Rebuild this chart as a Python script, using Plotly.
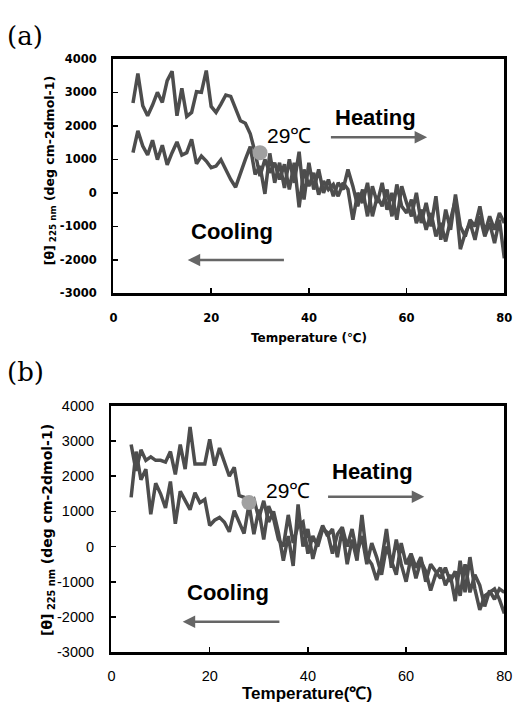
import plotly.graph_objects as go

temps = list(range(4, 81))

a_upper = [2680, 3560, 2600, 2300, 2620, 3000, 2700, 3350, 3630, 2300,
           3120, 2280, 2400, 3020, 3000, 3650, 2580, 2400, 2650, 2920,
           2880, 2500, 2150, 2080, 1760, 1200, 500, 1000, 600, 900,
           400, 850, 100, 900, -430, 700, 200, 600, -50, 350,
           100, 250, -100, 300, 100, -800, 0, -300, 300, -700,
           -100, -400, 100, -700, 250, -400, -600, -200, -900, -500,
           -1100, -600, -1300, -900, -1450, -800, -200, -1680, -1200, -900,
           -1400, -700, -1300, -900, -1500, -800, -1950]
a_lower = [1200, 1850, 1400, 1130, 1570, 990, 1420, 840, 1200, 1520,
           1130, 1200, 1600, 870, 1100, 950, 750, 800, 990, 700,
           400, 170, 600, 1000, 1380, 550, 800, -30, 1180, 300,
           900, 150, 1000, 300, 1230, -200, 900, 100, 700, 0,
           400, -100, 300, 100, 700, 200, -400, 100, -700, 200,
           -300, 300, -500, 0, -800, 200, -300, -700, 0, -900,
           -300, -1000, -100, -1400, -500, -1100, -50, -1000, -1300, -800,
           -1000, -400, -1200, -700, -1100, -600, -900]

b_upper = [2900, 2150, 2750, 2450, 2550, 2450, 2450, 2400, 2700, 2050,
           2900, 2200, 3400, 2350, 2350, 2350, 3050, 2300, 2800, 2400,
           2000, 2250, 1450, 1400, 1250, 1350, 800, 1300, 700, 1000,
           400, -400, 300, -550, 1200, 0, 500, -350, 200, 600,
           300, 500, -300, 500, -500, 200, -400, 900, -300, -500,
           -950, -400, 500, -600, 200, -500, -1000, -300, -900, -400,
           -700, -1250, -800, -600, -1100, -800, -1550, -400, -1300, -300,
           -1200, -1800, -1400, -1300, -1200, -1500, -1900]
b_lower = [1400, 2700, 1900, 2200, 920, 1800, 1500, 1100, 1850, 650,
           1570, 1300, 1050, 1530, 1250, 1340, 600, 750, 830, 690,
           420, 1020, 700, 370, 1200, 350, 1050, 200, 1150, 800,
           200, 0, 900, 100, 600, 700, -200, 300, 0, 500,
           400, -200, 350, 550, 0, 500, -200, 300, -500, 100,
           -300, -800, 0, -400, -800, 100, -500, -200, -600, -300,
           -1000, -500, -700, -900, -600, -1000, -700, -1400, -500, -1300,
           -800, -1100, -1700, -1250, -1500, -1200, -1300]

transition_a = (30, 1200)
transition_b = (28, 1250)

x_ticks = [0, 20, 40, 60, 80]
y_ticks = [-3000, -2000, -1000, 0, 1000, 2000, 3000, 4000]
y_ticktext = [str(v) for v in y_ticks]

LINE = "#4d4d4d"
W, H = 526, 710

fig = go.Figure()
for xa, ya, ser in (("x", "y", (a_upper, a_lower)), ("x2", "y2", (b_upper, b_lower))):
    for s in ser:
        fig.add_trace(go.Scatter(x=temps, y=s, mode="lines", xaxis=xa, yaxis=ya,
                                 line=dict(color=LINE, width=3.5), showlegend=False,
                                 hoverinfo="skip"))

fig.add_trace(go.Scatter(x=[transition_a[0]], y=[transition_a[1]], mode="markers",
                         xaxis="x", yaxis="y", showlegend=False, hoverinfo="skip",
                         marker=dict(color="#a0a0a0", size=15)))
fig.add_trace(go.Scatter(x=[transition_b[0]], y=[transition_b[1]], mode="markers",
                         xaxis="x2", yaxis="y2", showlegend=False, hoverinfo="skip",
                         marker=dict(color="#a0a0a0", size=15)))


def px2paper_x(px):
    return px / W


def px2paper_y(py):
    return (H - py) / H


axis_common = dict(showline=True, linecolor="black", linewidth=2.5, mirror=True,
                   ticks="inside", ticklen=5, tickwidth=1.5, tickcolor="black",
                   showgrid=False, zeroline=False)

font_a = dict(family="DejaVu Sans", size=11.5, color="black", weight="bold")
font_b = dict(family="Liberation Sans", size=14.5, color="black")

fig.update_layout(
    width=W, height=H, margin=dict(l=0, r=0, t=0, b=0),
    paper_bgcolor="white", plot_bgcolor="white",
    xaxis=dict(domain=[px2paper_x(112), px2paper_x(512)], range=[0, 80],
               tickvals=x_ticks, anchor="y", tickfont=font_a, ticklabelstandoff=12,
               **axis_common),
    yaxis=dict(domain=[px2paper_y(292), px2paper_y(52)], range=[-3000, 4000],
               tickvals=y_ticks, ticktext=y_ticktext, anchor="x", tickfont=font_a,
               ticklabelstandoff=12, **axis_common),
    xaxis2=dict(domain=[px2paper_x(110), px2paper_x(512)], range=[0, 80],
                tickvals=x_ticks, anchor="y2", tickfont=font_b, ticklabelstandoff=9,
                **axis_common),
    yaxis2=dict(domain=[px2paper_y(659), px2paper_y(407)], range=[-3000, 4000],
                tickvals=y_ticks, ticktext=y_ticktext, anchor="x2", tickfont=font_b,
                ticklabelstandoff=12, **axis_common),
)


def pa(text, px, py, font, angle=0):
    return dict(text=text, x=px2paper_x(px), y=px2paper_y(py), xref="paper", yref="paper",
                xanchor="center", yanchor="middle", showarrow=False, textangle=angle,
                font=font)


ann = []
serif = dict(family="DejaVu Serif", size=26, color="black")
ann.append(pa("(a)", 22, 29, serif))
ann.append(pa("(b)", 22, 372, serif))
ann.append(pa("[θ]<sub> 225 nm</sub> (deg cm-2dmol-1)", 47, 166,
              dict(family="DejaVu Sans", size=12.5, color="black", weight="bold"), -90))
ann.append(pa("[θ]<sub> 225 nm</sub> (deg cm-2dmol-1)", 45, 534,
              dict(family="DejaVu Sans", size=14, color="black", weight="bold"), -90))
ann.append(pa("Temperature (℃)", 312, 338,
              dict(family="DejaVu Sans", size=12, color="black", weight="bold")))
ann.append(pa("Temperature(℃)", 310, 701,
              dict(family="Liberation Sans", size=17, color="black", weight="bold")))

label_font = dict(family="Liberation Sans", size=22, color="black", weight="bold")
t_font = dict(family="Liberation Sans", size=21, color="black")
ARW = "#666666"
for xr, yr, heat_t, heat_y, arr_y_h, h0, h1, t29x, t29y, cool_t, cool_y, arr_y_c, c0, c1 in (
    ("x", "y", 53.6, 2240, 1657, 44.2, 64.2, 36.0, 1715, 24.2, -1163, -2006, 35.2, 15.2),
    ("x2", "y2", 53.2, 2140, 1417, 43.8, 63.7, 35.9, 1583, 23.7, -1306, -2139, 34.5, 14.5),
):
    ann.append(dict(text="Heating", x=heat_t, y=heat_y, xref=xr, yref=yr, showarrow=False,
                    xanchor="center", yanchor="middle", font=label_font))
    ann.append(dict(text="29℃", x=t29x, y=t29y, xref=xr, yref=yr, showarrow=False,
                    xanchor="center", yanchor="middle", font=t_font))
    ann.append(dict(text="Cooling", x=cool_t, y=cool_y, xref=xr, yref=yr, showarrow=False,
                    xanchor="center", yanchor="middle", font=label_font))
    ann.append(dict(text="", x=h1, y=arr_y_h, ax=h0, ay=arr_y_h, xref=xr, yref=yr,
                    axref=xr, ayref=yr, showarrow=True, arrowhead=2, arrowsize=1,
                    arrowwidth=2.5, arrowcolor=ARW))
    ann.append(dict(text="", x=c1, y=arr_y_c, ax=c0, ay=arr_y_c, xref=xr, yref=yr,
                    axref=xr, ayref=yr, showarrow=True, arrowhead=2, arrowsize=1,
                    arrowwidth=2.5, arrowcolor=ARW))

fig.update_layout(annotations=ann, hovermode=False)
# remove the browser's default page margin so the figure sits at the window's corner
fig.write_html("out.html", config={"displayModeBar": False, "staticPlot": True},
               post_script="document.body.style.margin='0';document.body.style.overflow='hidden';")
